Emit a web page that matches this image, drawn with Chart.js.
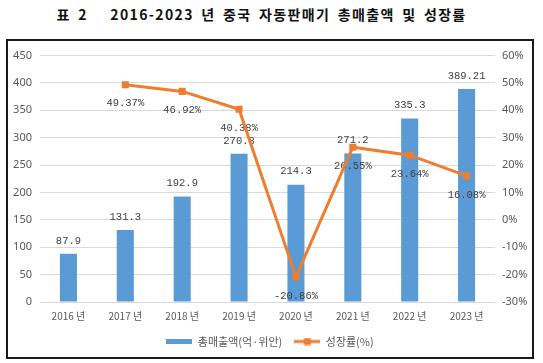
<!DOCTYPE html>
<html>
<head>
<meta charset="utf-8">
<script src="https://cdn.jsdelivr.net/npm/chart.js@4.4.1/dist/chart.umd.min.js"></script>
<style>
  body { margin: 0; background: #fff; width: 543px; height: 363px; position: relative; overflow: hidden; }
  #title {
    position: absolute; left: 0; top: 4px; width: 523px; text-align: center;
    font: bold 14px "Noto Sans CJK KR", sans-serif; color: #111;
    white-space: pre; letter-spacing: 1.35px; word-spacing: 3px;
  }
  #frame {
    position: absolute; left: 6px; top: 39px; width: 524px; height: 316px;
    border: 2px solid #1a1a1a;
  }
</style>
</head>
<body>
<div id="title">표 2   2016-2023 년 중국 자동판매기 총매출액 및 성장률</div>
<div id="frame"><canvas id="grafico" width="524" height="316"></canvas></div>
<script>
const years = ['2016 년', '2017 년', '2018 년', '2019 년', '2020 년', '2021 년', '2022 년', '2023 년'];
const salesValues = [87.9, 131.3, 192.9, 270.8, 214.3, 271.2, 335.3, 389.21];
const growthValues = [null, 49.37, 46.92, 40.38, -20.86, 26.55, 23.64, 16.08];
const salesTicks = [0, 50, 100, 150, 200, 250, 300, 350, 400, 450];
const growthTicks = [-30, -20, -10, 0, 10, 20, 30, 40, 50, 60];

const azul = '#5B9BD5';
const naranja = '#ED7D31';

// simbolos de la leyenda
function simboloBarra() {
  const cv = document.createElement('canvas');
  cv.width = 26; cv.height = 5;
  const g = cv.getContext('2d');
  g.fillStyle = azul;
  g.fillRect(0, 0, 26, 5);
  return cv;
}
function simboloLinea() {
  const cv = document.createElement('canvas');
  cv.width = 26; cv.height = 8;
  const g = cv.getContext('2d');
  g.fillStyle = naranja;
  g.fillRect(0, 2.5, 26, 3);
  g.fillRect(9.5, 0.5, 7, 7);
  return cv;
}
const simbolos = [simboloBarra(), simboloLinea()];

const labelPlugin = {
  id: 'valueLabels',
  afterDatasetDraw(chart, args) {
    if (args.index !== 0) return;
    const c = chart.ctx;
    c.save();
    c.font = '10.5px "Liberation Mono", monospace';
    c.fillStyle = '#404040';
    c.textAlign = 'center';
    c.textBaseline = 'middle';
    chart.getDatasetMeta(0).data.forEach((bar, i) => {
      c.fillText(String(salesValues[i]), bar.x, bar.y - 13);
    });
    chart.getDatasetMeta(1).data.forEach((pt, i) => {
      if (growthValues[i] === null) return;
      c.fillText(growthValues[i].toFixed(2) + '%', pt.x, pt.y + 19);
    });
    c.restore();
  }
};

const ctx = document.getElementById('grafico').getContext('2d');
const grafico = new Chart(ctx, {
  type: 'bar',
  data: {
    labels: years,
    datasets: [{
      label: '총매출액(억·위안)',
      data: salesValues,
      backgroundColor: azul,
      categoryPercentage: 0.6,
      barPercentage: 0.5,
      yAxisID: 'y',
      order: 2
    }, {
      type: 'line',
      label: '성장률(%)',
      data: growthValues,
      borderColor: naranja,
      backgroundColor: naranja,
      borderWidth: 3,
      pointStyle: 'rect',
      pointRadius: 5,
      pointBackgroundColor: naranja,
      pointBorderWidth: 0,
      tension: 0,
      yAxisID: 'y1',
      order: 1
    }]
  },
  options: {
    responsive: false,
    animation: false,
    layout: { padding: { top: 12, bottom: 0, left: 0, right: 0 } },
    scales: {
      x: {
        grid: { display: false, drawTicks: false },
        border: { display: false },
        ticks: { color: '#595959', font: { size: 10, family: '"Noto Sans CJK KR"' }, padding: 8 },
        afterFit(s) { s.height = 22; }
      },
      y: {
        position: 'left',
        min: 0, max: 450,
        afterBuildTicks(s) { s.ticks = salesTicks.map(v => ({ value: v })); },
        grid: { color: '#D9D9D9', drawTicks: false },
        border: { display: false },
        ticks: { color: '#595959', font: { size: 11, family: '"Noto Sans"' }, padding: 8 },
        afterFit(s) { s.width = 32; }
      },
      y1: {
        position: 'right',
        min: -30, max: 60,
        afterBuildTicks(s) { s.ticks = growthTicks.map(v => ({ value: v })); },
        grid: { drawOnChartArea: false, drawTicks: false },
        border: { display: false },
        ticks: { color: '#595959', font: { size: 11, family: '"Noto Sans"' }, padding: 7, callback: v => v + '%' },
        afterFit(s) { s.width = 37; }
      }
    },
    plugins: {
      legend: {
        position: 'bottom',
        labels: {
          usePointStyle: true,
          pointStyleWidth: 26,
          boxHeight: 8,
          padding: 12,
          color: '#595959',
          font: { size: 11, family: '"Noto Sans CJK KR"' },
          sort: (a, b) => a.datasetIndex - b.datasetIndex,
          generateLabels(chart) {
            const items = Chart.defaults.plugins.legend.labels.generateLabels(chart);
            items.forEach(it => { it.pointStyle = simbolos[it.datasetIndex]; it.lineWidth = 0; });
            return items;
          }
        }
      },
      tooltip: { enabled: false },
      title: { display: false }
    }
  },
  plugins: [labelPlugin]
});
</script>
</body>
</html>
